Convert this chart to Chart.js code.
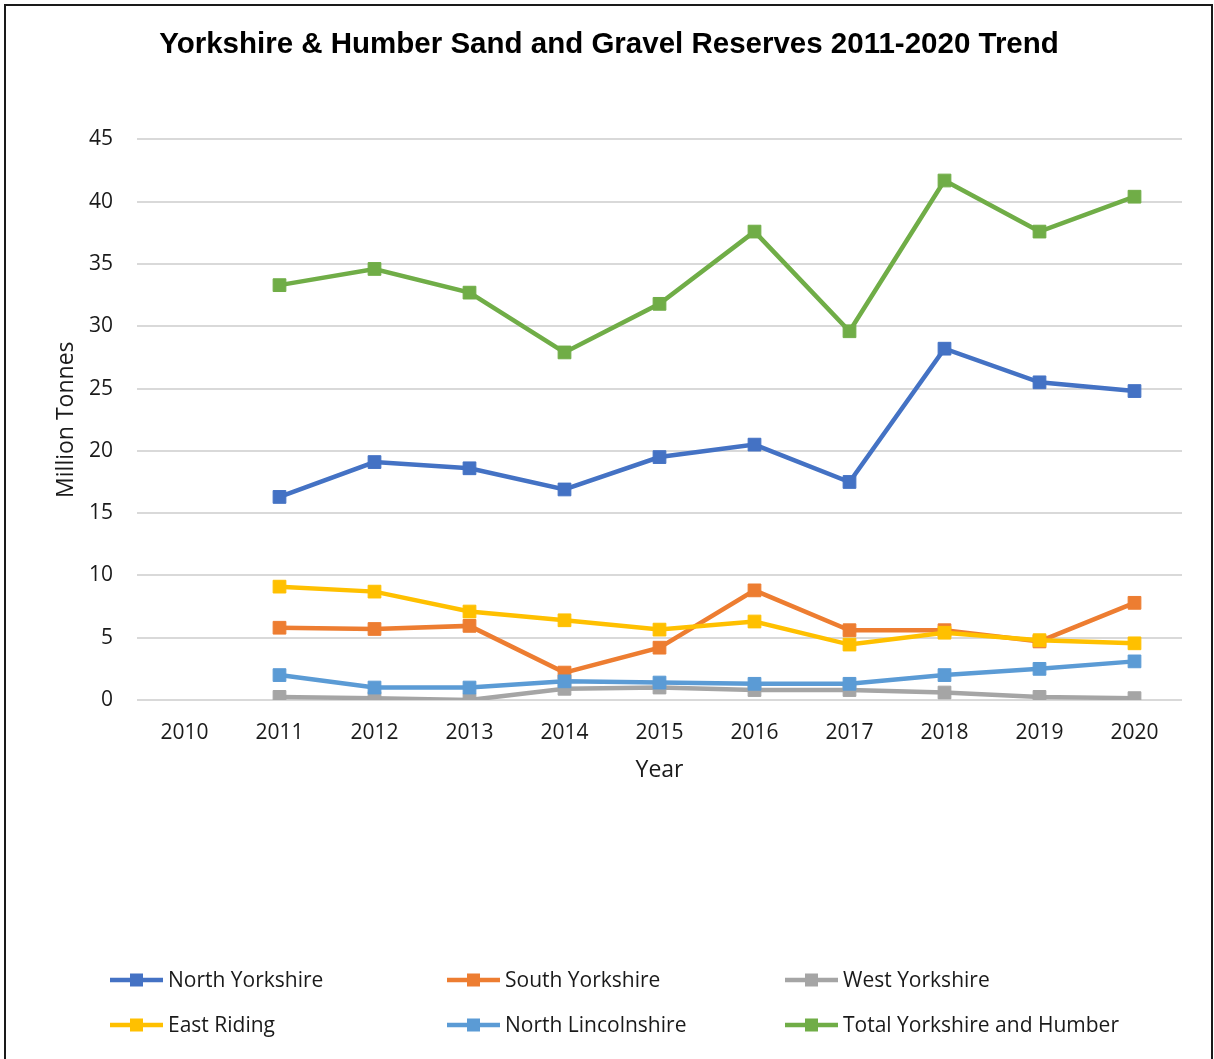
<!DOCTYPE html>
<html>
<head>
<meta charset="utf-8">
<title>Yorkshire & Humber Sand and Gravel Reserves</title>
<script src="https://cdn.jsdelivr.net/npm/chart.js@4"></script>
<style>
  html, body { margin: 0; padding: 0; background: #fff; }
  .chart-wrap { position: relative; width: 1214px; height: 1059px; overflow: hidden; }
  .chart-frame {
    position: absolute; left: 4px; top: 4px; width: 1209px; height: 1070px;
    box-sizing: border-box; border: 2px solid #1a1a1a; pointer-events: none;
  }
</style>
</head>
<body>
<div class="chart-wrap">
  <canvas id="reservesChart" width="1214" height="1059"></canvas>
  <div class="chart-frame"></div>
</div>
<script>
// Reserves in million tonnes, one value per year (2010 has no figures)
const years = ['2010', '2011', '2012', '2013', '2014', '2015', '2016', '2017', '2018', '2019', '2020'];
const northYorkshire = [null, 16.3, 19.1, 18.6, 16.9, 19.5, 20.5, 17.5, 28.2, 25.5, 24.8];
const southYorkshire = [null, 5.8, 5.7, 5.95, 2.2, 4.2, 8.8, 5.6, 5.6, 4.7, 7.8];
const westYorkshire = [null, 0.25, 0.15, 0.0, 0.9, 1.0, 0.8, 0.8, 0.6, 0.25, 0.15];
const eastRiding = [null, 9.1, 8.7, 7.1, 6.4, 5.65, 6.3, 4.45, 5.4, 4.8, 4.55];
const northLincolnshire = [null, 2.0, 1.0, 1.0, 1.5, 1.4, 1.3, 1.3, 2.0, 2.5, 3.1];
const totalYorkshire = [null, 33.3, 34.6, 32.7, 27.9, 31.8, 37.6, 29.6, 41.7, 37.6, 40.4];
const yTicks = [0, 5, 10, 15, 20, 25, 30, 35, 40, 45];

const textColor = '#1a1a1a';
const gridColor = '#d9d9d9';
const bodyFont = "'Open Sans', sans-serif";

function makeSeries(label, data, color, order) {
  return {
    label: label,
    data: data,
    borderColor: color,
    backgroundColor: color,
    borderWidth: 4.5,
    pointStyle: 'rect',
    pointRadius: 9,
    pointHoverRadius: 9,
    pointBorderWidth: 1,
    pointBorderColor: color,
    pointBackgroundColor: color,
    spanGaps: false,
    order: order,
  };
}

// Legend laid out in a fixed 3 x 2 grid under the plot
const gridLegend = {
  id: 'gridLegend',
  afterDraw(chart) {
    const ctx = chart.ctx;
    const colX = [110, 447, 785];
    const rowY = [980, 1025];
    ctx.save();
    ctx.font = "21px " + bodyFont;
    ctx.textBaseline = 'middle';
    ctx.textAlign = 'left';
    chart.data.datasets.forEach((ds, i) => {
      const x = colX[i % 3];
      const y = rowY[Math.floor(i / 3)];
      ctx.strokeStyle = ds.borderColor;
      ctx.lineWidth = 4.5;
      ctx.beginPath();
      ctx.moveTo(x, y);
      ctx.lineTo(x + 53, y);
      ctx.stroke();
      ctx.fillStyle = ds.borderColor;
      ctx.fillRect(x + 20, y - 6.5, 13, 13);
      ctx.fillStyle = textColor;
      ctx.fillText(ds.label, x + 58, y + 1);
    });
    ctx.restore();
  },
};

document.addEventListener('DOMContentLoaded', function() {
  const ctx = document.getElementById('reservesChart').getContext('2d');
  new Chart(ctx, {
    type: 'line',
    data: {
      labels: years,
      datasets: [
        makeSeries('North Yorkshire', northYorkshire, '#4472c4', 6),
        makeSeries('South Yorkshire', southYorkshire, '#ed7d31', 5),
        makeSeries('West Yorkshire', westYorkshire, '#a5a5a5', 4),
        makeSeries('East Riding', eastRiding, '#ffc000', 3),
        makeSeries('North Lincolnshire', northLincolnshire, '#5b9bd5', 2),
        makeSeries('Total Yorkshire and Humber', totalYorkshire, '#70ad47', 1),
      ],
    },
    options: {
      responsive: false,
      animation: false,
      layout: { padding: { left: 36, right: 32, top: 0, bottom: 269 } },
      plugins: {
        legend: { display: false },
        tooltip: { enabled: false },
        title: {
          display: true,
          text: 'Yorkshire & Humber Sand and Gravel Reserves 2011-2020 Trend',
          color: '#000',
          font: { family: "'Liberation Sans', Arial, sans-serif", size: 29.5, weight: 'bold' },
          padding: { top: 27, bottom: 77 },
        },
      },
      scales: {
        x: {
          type: 'category',
          offset: true,
          grid: { display: false },
          border: { display: false },
          ticks: { color: textColor, font: { family: bodyFont, size: 21 }, padding: 12, maxRotation: 0 },
          title: {
            display: true,
            text: 'Year',
            color: textColor,
            font: { family: bodyFont, size: 23 },
            padding: { top: 0, bottom: 6 },
          },
          afterFit(scale) { scale.height = 90; },
        },
        y: {
          min: 0,
          max: 45,
          afterBuildTicks(scale) { scale.ticks = yTicks.map(v => ({ value: v })); },
          grid: { color: gridColor, lineWidth: 2, drawTicks: false },
          border: { display: false },
          ticks: { color: textColor, font: { family: bodyFont, size: 21 }, padding: 24 },
          title: {
            display: true,
            text: 'Million Tonnes',
            color: textColor,
            font: { family: bodyFont, size: 23 },
            padding: { top: 17, bottom: 0 },
          },
          afterFit(scale) { scale.width = 101; },
        },
      },
    },
    plugins: [gridLegend],
  });
});
</script>
</body>
</html>
